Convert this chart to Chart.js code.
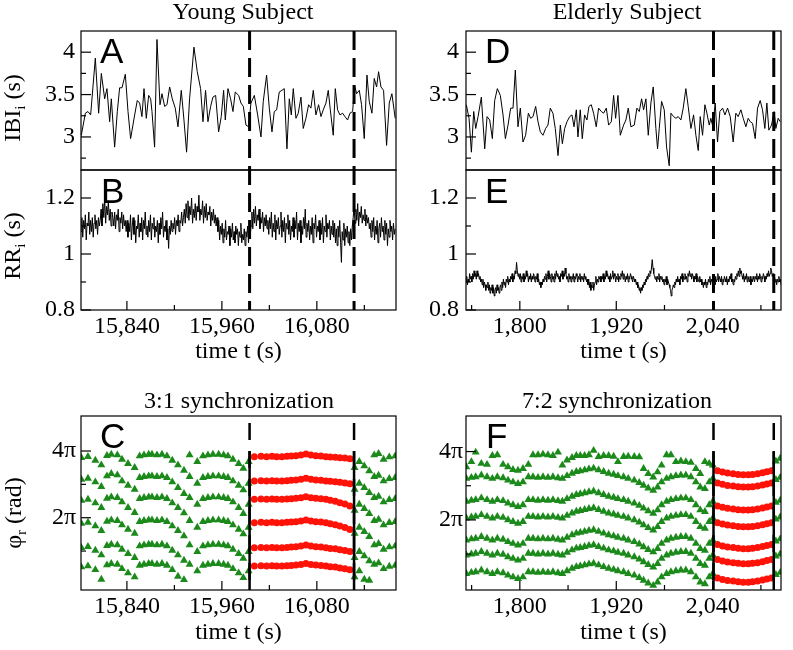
<!DOCTYPE html>
<html><head><meta charset="utf-8">
<script src="https://cdn.jsdelivr.net/npm/chart.js@4.4.1/dist/chart.umd.min.js"></script>
<style>
html,body{margin:0;padding:0;background:#fff;}
#wrap{position:relative;width:793px;height:650px;overflow:hidden;background:#fff;}
canvas{position:absolute;left:0;top:0;}
</style></head><body><div id="wrap"></div>
<script>
// ---------------- DATA ----------------
// Panel A: respiratory intervals, young subject (time s, IBI s)
const ibiTimesYoung = [15782.4,15787.5,15790.8,15794.2,15800.1,15804.3,15807.7,15811.9,15814.8,15818.2,15820.3,15824.5,15827.9,15830.8,15833.8,15838.0,15841.4,15844.7,15849.8,15853.1,15856.1,15859.0,15861.6,15864.5,15867.5,15870.0,15871.7,15875.0,15878.0,15881.8,15884.3,15887.7,15890.6,15894.0,15897.3,15901.1,15904.5,15908.7,15912.1,15915.4,15919.2,15924.7,15928.9,15933.1,15936.1,15939.4,15942.4,15945.8,15948.7,15952.1,15955.9,15959.2,15962.2,15964.3,15967.7,15971.0,15974.0,15976.9,
15981.2,15984.1,15987.1,15990.4,15993.8,15996.7,16001.0,16005.2,16009.4,16012.3,16016.5,16019.9,16023.3,16026.2,16029.2,16032.5,16035.9,16038.8,16042.2,16045.2,16047.7,16050.2,16053.6,16056.5,16059.9,16062.8,16066.2,16069.6,16072.5,16075.5,16078.8,16082.2,16085.2,16088.1,16091.5,16094.4,16097.0,16100.7,16103.3,16106.2,16109.2,16112.5,16115.5,16118.8,16121.8,16125.2,16127.7,16130.2,16133.6,16136.5,16139.9,16143.3,16146.2,16149.6,16152.5,16155.5,16158.0,16161.0,16164.3,16168.1,16171.5,16174.8,16179.0];
const ibiYoung = [3.02,3.28,3.30,3.26,3.93,3.28,3.75,3.45,3.57,3.18,3.45,2.88,3.30,3.58,3.58,3.74,3.30,2.98,3.26,3.43,3.40,3.24,3.57,3.22,3.49,3.45,3.30,2.88,4.15,3.38,3.51,3.36,3.38,3.59,3.45,3.34,3.12,3.55,3.20,2.82,3.45,4.06,3.77,3.57,3.18,3.55,3.18,3.36,3.47,3.49,3.06,3.24,3.55,3.20,3.57,3.45,3.30,3.53,
3.49,3.40,3.36,3.14,3.12,3.40,3.49,3.26,3.00,3.42,3.73,3.34,3.06,3.30,3.32,3.53,3.55,3.57,2.86,3.45,3.26,3.57,3.22,3.28,3.47,3.10,3.22,3.38,3.34,3.55,3.26,3.38,3.24,3.32,3.40,3.55,3.32,3.02,3.57,3.32,3.26,3.28,3.24,3.20,3.28,3.30,3.61,3.51,3.55,3.38,2.98,3.73,3.42,3.28,3.69,3.59,3.77,3.59,3.55,2.90,3.40,3.51,3.22];

// Panel B: heartbeat intervals, young subject (s), first beat time
const rrYoungStart = 15782;
const rrYoung = [1.08,1.13,1.06,1.12,1.09,1.14,1.05,1.11,1.10,1.15,1.07,1.12,1.08,1.13,1.06,1.11,1.14,1.09,1.12,1.07,1.13,1.10,
1.12,1.16,1.10,1.18,1.13,1.20,1.11,1.17,1.14,1.19,1.12,1.16,1.10,1.15,1.13,
1.10,1.15,1.09,1.14,1.12,1.16,1.08,1.13,1.11,1.15,1.09,1.14,1.10,1.12,1.08,
1.12,1.06,1.11,1.08,1.14,1.05,1.10,1.13,1.07,1.12,1.04,1.10,1.09,1.14,1.06,1.11,1.08,1.13,1.05,1.12,1.09,1.15,1.07,1.10,1.06,1.12,1.08,1.14,1.05,1.11,1.09,1.13,1.06,1.10,1.08,1.12,1.04,1.11,1.07,1.13,1.09,1.15,1.06,1.10,1.08,1.12,1.05,1.09,1.02,1.10,1.07,1.12,1.08,1.11,
1.09,1.13,1.07,1.12,1.10,1.14,1.08,1.12,1.11,1.15,1.10,1.13,
1.16,1.11,1.18,1.13,1.19,1.12,1.17,1.14,1.20,1.11,1.16,1.13,1.18,1.12,1.17,1.15,1.21,1.12,1.16,1.14,1.19,1.11,1.17,1.13,1.18,1.12,1.15,1.14,1.17,1.10,1.15,1.12,1.16,1.11,1.14,1.10,1.13,
1.08,1.12,1.05,1.10,1.07,1.11,1.04,1.09,1.06,1.12,1.05,1.08,1.07,1.10,1.03,1.09,1.06,1.11,1.05,1.08,1.04,1.10,1.07,1.09,1.03,1.08,1.06,1.11,1.04,1.07,1.05,1.09,1.03,1.08,1.06,1.10,1.04,1.08,1.06,
1.10,1.15,1.09,1.16,1.11,1.17,1.10,1.14,1.12,1.16,1.09,1.13,1.11,1.15,1.08,1.13,1.10,1.14,1.09,
1.12,1.07,1.13,1.09,1.15,1.06,1.11,1.08,1.14,1.05,1.12,1.09,1.13,1.07,1.10,1.15,1.06,1.12,1.08,1.13,1.04,1.11,1.09,1.14,1.07,1.12,1.05,1.10,1.08,1.13,1.06,1.12,1.09,1.15,1.05,1.11,1.08,1.12,1.04,1.10,1.07,1.13,1.09,1.16,1.06,1.11,1.08,1.12,1.05,1.10,1.07,1.13,1.04,1.11,1.09,1.14,1.06,1.10,1.08,1.12,1.05,1.11,1.07,1.13,1.04,1.10,1.08,1.14,1.06,1.11,1.09,1.12,1.05,1.10,1.07,1.12,
1.06,1.11,1.04,1.09,1.03,1.10,1.06,1.12,1.04,0.97,1.08,1.05,1.11,1.03,1.09,1.06,1.10,1.04,1.08,1.03,1.09,1.05,1.10,
1.13,1.17,1.11,1.16,1.12,1.18,1.10,1.15,1.13,1.17,1.11,1.14,1.12,1.16,1.10,1.14,1.11,1.13,1.09,
1.11,1.06,1.12,1.08,1.13,1.05,1.10,1.07,1.12,1.04,1.09,1.11,1.06,1.13,1.08,1.10,1.05,1.12,1.07,1.11,1.03,1.09,1.06,1.12,1.08,1.10,1.05,1.11,1.07,1.09];

// Panel D: respiratory intervals, elderly subject
const ibiTimesElderly = [1733.4,1736.8,1739.7,1742.6,1745.1,1748.0,1752.1,1756.3,1759.2,1762.5,1765.8,1768.7,1772.0,1775.7,1779.1,1782.0,1785.3,1788.6,1791.5,1794.4,1797.7,1800.6,1803.9,1807.2,1810.6,1813.5,1816.4,1819.7,1822.6,1825.5,1828.8,1832.1,1835.0,1837.9,1841.2,1844.1,1847.5,1850.4,1852.9,1855.8,1858.7,1862.0,1864.9,1867.4,1870.3,1872.3,1875.2,1877.7,1880.6,1883.5,1886.0,1888.9,1891.8,1895.1,1898.0,1901.4,1904.3,1907.6,1910.5,1913.8,1916.7,1919.2,1922.1,1925.0,
1929.1,1932.0,1934.9,1938.2,1942.4,1945.7,1948.6,1951.5,1954.0,1956.9,1959.8,1963.1,1966.0,1969.3,1971.4,1973.5,1976.4,1979.7,1982.6,1985.9,1988.0,1991.3,1994.2,1997.1,2000.4,2003.3,2006.6,2009.5,2012.9,2016.2,2019.1,2022.0,2024.5,2027.4,2030.3,2032.8,2035.7,2037.7,2040.2,2043.1,2046.0,2048.9,2052.3,2055.2,2058.5,2061.8,2065.5,2068.8,2071.7,2075.1,2078.0,2081.3,2084.2,2086.7,2089.6,2092.9,2095.8,2099.1,2102.0,2104.9,2107.4,2109.9,2113.2,2116.5,2118.6,2121.5,2124.0];
const ibiElderly = [3.38,3.22,2.82,3.30,3.10,3.24,3.47,2.86,3.24,3.20,2.98,3.43,3.57,3.49,3.26,2.98,3.14,3.34,3.34,3.79,3.12,3.34,2.94,3.02,3.28,3.22,3.24,3.36,3.18,3.06,3.02,3.10,3.14,3.34,3.28,3.10,2.78,3.14,2.92,3.10,3.18,3.24,3.26,3.12,3.32,3.00,3.32,2.98,3.26,3.20,3.36,3.38,3.28,3.12,3.34,3.30,3.28,3.34,3.14,3.18,3.49,3.22,3.49,3.02,
3.14,3.20,3.34,3.12,3.14,3.34,3.30,3.45,3.32,3.45,3.02,3.40,3.59,3.10,2.86,3.10,3.42,3.32,2.88,2.66,3.28,3.24,3.22,3.24,3.20,3.34,3.57,3.36,3.10,3.26,3.02,2.84,3.24,3.02,3.38,3.28,3.14,3.22,3.12,3.40,2.94,3.30,3.34,3.26,3.34,3.24,2.94,3.28,3.24,3.32,3.22,3.12,3.22,3.18,3.16,2.98,3.34,3.43,3.32,3.10,3.40,3.08,3.14,3.30,3.10,3.22,3.18];

// Panel E: heartbeat intervals, elderly subject
const rrElderlyStart = 1733;
const rrElderly = [0.90,0.92,0.89,0.91,0.90,0.93,0.91,0.92,0.90,0.93,0.91,0.94,0.92,0.93,0.91,0.94,0.92,0.93,0.91,
0.92,0.90,0.91,0.89,0.91,0.88,0.90,0.89,0.87,0.89,0.88,0.90,0.87,0.89,0.86,0.88,0.87,0.89,0.86,0.88,0.85,0.87,0.88,0.86,0.89,0.87,0.88,0.86,
0.88,0.89,0.87,0.90,0.88,0.91,0.89,0.90,0.88,0.91,0.90,0.92,0.89,0.91,0.90,0.92,0.91,0.93,0.90,0.92,0.91,0.94,0.93,
0.97,0.94,0.92,0.93,0.91,0.93,0.90,0.92,0.91,0.93,0.90,0.92,0.91,0.94,0.92,0.93,0.90,0.92,0.91,0.93,0.90,0.92,0.91,0.93,0.92,0.90,0.92,0.91,0.93,0.90,0.91,0.89,0.90,0.88,0.90,0.89,0.91,
0.90,0.92,0.91,0.93,0.90,0.92,0.94,0.91,0.93,0.92,0.90,0.93,0.91,0.92,0.90,0.93,0.91,0.94,0.92,0.93,0.91,0.92,0.90,0.93,0.92,0.94,0.91,0.93,0.92,0.95,0.93,0.91,0.92,0.90,0.93,0.91,0.92,0.90,0.92,0.91,0.93,0.90,0.92,0.91,0.93,0.92,0.90,0.92,0.91,0.93,0.90,0.92,0.91,0.92,0.90,0.93,0.91,0.92,0.90,0.91,
0.89,0.91,0.88,0.90,0.87,0.89,0.88,0.90,0.87,0.89,0.90,0.92,0.89,0.91,0.90,0.92,0.91,0.92,
0.90,0.92,0.91,0.93,0.90,0.92,0.91,0.94,0.92,0.93,0.91,0.92,0.90,0.93,0.91,0.92,0.94,0.91,0.93,0.92,0.90,0.92,0.91,0.93,0.90,0.92,0.91,0.93,0.92,0.94,0.91,0.93,0.92,0.90,0.92,0.91,0.93,0.90,0.92,0.91,0.93,0.92,0.91,0.90,0.92,0.91,
0.90,0.91,0.89,0.90,0.88,0.89,0.87,0.88,0.86,0.88,0.87,0.89,0.88,0.90,0.89,0.91,0.90,0.92,0.91,0.93,0.92,0.94,0.93,0.95,0.98,0.95,0.93,0.92,
0.91,0.92,0.90,0.92,0.91,0.93,0.90,0.92,0.91,0.92,0.90,0.91,0.89,0.91,0.90,0.92,0.89,0.91,0.90,0.89,0.88,0.87,0.85,0.87,0.88,0.89,0.88,0.90,
0.89,0.91,0.90,0.92,0.90,0.91,0.89,0.92,0.91,0.93,0.90,0.92,0.91,0.93,0.91,0.92,0.90,0.93,0.92,0.94,0.92,0.93,0.91,0.93,0.92,0.90,0.92,0.91,0.93,0.90,0.92,0.91,0.90,0.92,0.90,0.91,0.89,
0.90,0.88,0.90,0.89,0.91,0.88,0.90,0.89,0.91,0.90,0.92,0.89,0.91,0.90,0.92,0.90,0.91,0.89,0.92,0.90,0.91,0.93,0.90,0.92,0.91,0.90,0.92,0.89,0.91,0.90,0.92,0.91,0.90,0.92,0.89,0.91,0.90,0.92,0.91,0.93,0.90,0.91,0.89,0.91,0.90,0.92,
0.91,0.93,0.92,0.94,0.92,0.95,0.93,0.94,0.92,0.91,0.93,0.90,0.92,0.91,0.93,0.90,0.92,0.91,0.90,0.92,0.89,0.91,0.90,0.92,0.91,0.90,0.92,0.91,0.93,0.90,0.92,0.91,0.93,0.92,0.90,0.92,0.91,0.93,0.92,0.90,0.92,0.91,0.93,0.92,0.94,0.92,
0.93,0.95,0.94,0.92,0.93,0.91,0.92,0.90,0.91,0.89,0.91,0.90,0.92,0.90,0.91,0.89,0.90,0.91,0.89,0.90];

// Panel C: relative phase (units of pi), one value per pair of breaths, 6 rows (3:1)
const phiC1 = [3.80,3.83,3.72,3.58,3.86,3.90,3.88,3.75,3.62,3.50,3.85,3.88,3.90,3.90,3.88,3.90,3.85,3.72,3.58,3.42,3.88,3.68,3.85,3.88,3.90,3.90,3.88,3.85,3.75,3.62,3.48,3.68,
3.83,3.84,3.83,3.84,3.83,3.83,3.84,3.85,3.86,3.88,3.91,3.88,3.86,3.85,3.83,3.82,3.81,3.80,3.79,3.77,
3.50,3.68,3.55,3.40,3.88,3.92,3.75,3.82,3.85];
const phiC2 = [3.15,3.18,3.07,2.93,3.25,3.32,3.28,3.10,2.97,2.85,3.20,3.23,3.25,3.25,3.23,3.25,3.20,3.07,2.90,2.72,3.23,3.03,3.20,3.23,3.25,3.25,3.23,3.20,3.10,2.97,2.83,3.03,
3.10,3.11,3.10,3.11,3.10,3.10,3.11,3.12,3.13,3.15,3.18,3.15,3.13,3.12,3.10,3.09,3.08,3.06,3.04,3.02,
2.85,3.03,2.90,2.75,3.23,3.27,3.10,3.17,3.20];
const phiC3 = [2.52,2.55,2.44,2.30,2.58,2.62,2.60,2.47,2.30,2.15,2.57,2.60,2.62,2.62,2.60,2.62,2.57,2.44,2.30,2.14,2.60,2.40,2.57,2.60,2.62,2.62,2.60,2.57,2.47,2.30,2.12,2.40,
2.55,2.56,2.55,2.56,2.55,2.55,2.56,2.57,2.58,2.60,2.63,2.60,2.58,2.57,2.55,2.52,2.49,2.45,2.41,2.35,
2.22,2.40,2.27,2.12,2.60,2.64,2.47,2.54,2.57];
const phiC4 = [1.83,1.86,1.75,1.61,1.89,1.93,1.91,1.78,1.65,1.53,1.88,1.91,1.93,1.93,1.91,1.93,1.88,1.75,1.61,1.45,1.91,1.71,1.88,1.91,1.93,1.93,1.91,1.88,1.78,1.65,1.51,1.71,
1.85,1.86,1.85,1.86,1.85,1.85,1.86,1.87,1.88,1.90,1.93,1.90,1.88,1.87,1.85,1.82,1.79,1.75,1.71,1.65,
1.53,1.71,1.58,1.43,1.91,1.95,1.78,1.85,1.88];
const phiC5 = [1.10,1.13,1.02,0.88,1.16,1.20,1.18,1.05,0.92,0.80,1.15,1.18,1.20,1.20,1.18,1.20,1.15,1.02,0.88,0.72,1.18,0.98,1.15,1.18,1.20,1.20,1.18,1.15,1.05,0.92,0.78,0.98,
1.10,1.11,1.10,1.11,1.10,1.10,1.11,1.12,1.13,1.15,1.18,1.15,1.13,1.12,1.10,1.08,1.07,1.04,1.02,0.99,
0.80,0.98,0.85,0.70,1.18,1.22,1.05,1.12,1.15];
const phiC6 = [0.52,0.55,0.44,0.15,0.58,0.62,0.60,0.47,0.34,0.22,0.57,0.60,0.62,0.62,0.60,0.62,0.57,0.44,0.24,0.14,0.60,0.40,0.57,0.60,0.62,0.62,0.60,0.57,0.47,0.34,0.20,0.40,
0.55,0.56,0.55,0.56,0.55,0.55,0.56,0.57,0.58,0.60,0.63,0.60,0.58,0.57,0.55,0.53,0.52,0.49,0.47,0.44,
0.22,0.40,0.15,0.12,0.60,0.64,0.47,0.54,0.57];

// Panel F: relative phase (units of pi), 7 rows (7:2)
const phiF1 = [3.55,3.70,3.98,3.65,3.62,3.88,3.90,3.62,3.55,3.47,3.45,3.50,3.62,3.90,3.90,3.92,3.90,3.88,3.98,3.60,3.75,3.82,3.88,3.88,3.88,3.90,4.03,3.85,3.88,3.88,3.86,3.70,3.85,3.86,3.85,3.84,3.50,3.35,3.25,3.40,3.60,3.90,3.90,3.70,3.72,3.70,3.68,3.50,3.35,3.70,3.65,3.60,3.44,3.40,3.37,3.35,3.33,3.32,3.32,3.33,3.35,3.38,3.41,3.44,3.72,3.80];
const phiF2 = [3.21,3.24,3.26,3.31,3.26,3.21,3.26,3.23,3.16,3.11,3.06,3.11,3.26,3.26,3.24,3.26,3.24,3.26,3.23,3.21,3.29,3.36,3.41,3.43,3.46,3.49,3.51,3.46,3.41,3.36,3.33,3.29,3.26,3.21,3.16,3.09,3.01,2.93,2.86,2.96,3.11,3.21,3.26,3.29,3.31,3.31,3.26,3.11,2.96,2.91,3.11,3.21,3.08,3.04,3.01,2.99,2.97,2.96,2.96,2.97,2.99,3.02,3.05,3.08,3.18,3.24];
const phiF3 = [2.54,2.57,2.59,2.64,2.59,2.54,2.59,2.56,2.49,2.44,2.39,2.44,2.59,2.59,2.57,2.59,2.57,2.59,2.56,2.54,2.62,2.69,2.74,2.76,2.79,2.82,2.84,2.79,2.74,2.69,2.66,2.62,2.59,2.54,2.49,2.42,2.34,2.26,2.19,2.29,2.44,2.54,2.59,2.62,2.64,2.64,2.59,2.44,2.29,2.24,2.44,2.54,2.41,2.37,2.34,2.32,2.30,2.29,2.29,2.30,2.32,2.35,2.38,2.41,2.51,2.57];
const phiF4 = [2.05,2.08,2.10,2.15,2.10,2.05,2.10,2.07,2.00,1.95,1.90,1.95,2.10,2.10,2.08,2.10,2.08,2.10,2.07,2.05,2.13,2.20,2.25,2.27,2.30,2.33,2.35,2.30,2.25,2.20,2.17,2.13,2.10,2.05,2.00,1.93,1.85,1.77,1.70,1.80,1.95,2.05,2.10,2.13,2.15,2.15,2.10,1.95,1.80,1.75,1.95,2.05,1.92,1.88,1.85,1.83,1.81,1.80,1.80,1.81,1.83,1.86,1.89,1.92,2.02,2.08];
const phiF5 = [1.41,1.44,1.46,1.51,1.46,1.41,1.46,1.43,1.36,1.31,1.26,1.31,1.46,1.46,1.44,1.46,1.44,1.46,1.43,1.41,1.49,1.56,1.61,1.63,1.66,1.69,1.71,1.66,1.61,1.56,1.53,1.49,1.46,1.41,1.36,1.29,1.21,1.13,1.06,1.16,1.31,1.41,1.46,1.49,1.51,1.51,1.46,1.31,1.16,1.11,1.31,1.41,1.28,1.24,1.21,1.19,1.17,1.16,1.16,1.17,1.19,1.22,1.25,1.28,1.38,1.44];
const phiF6 = [0.97,1.00,1.02,1.07,1.02,0.97,1.02,0.99,0.92,0.87,0.82,0.87,1.02,1.02,1.00,1.02,1.00,1.02,0.99,0.97,1.05,1.12,1.17,1.19,1.22,1.25,1.27,1.22,1.17,1.12,1.09,1.05,1.02,0.97,0.92,0.85,0.77,0.69,0.62,0.72,0.87,0.97,1.02,1.05,1.07,1.07,1.02,0.87,0.72,0.67,0.87,0.97,0.84,0.80,0.77,0.75,0.73,0.72,0.72,0.73,0.75,0.78,0.81,0.84,0.94,1.00];
const phiF7 = [0.43,0.46,0.48,0.53,0.48,0.43,0.48,0.45,0.38,0.33,0.28,0.33,0.48,0.48,0.46,0.48,0.46,0.48,0.45,0.43,0.51,0.58,0.63,0.65,0.68,0.71,0.73,0.68,0.63,0.58,0.55,0.51,0.48,0.43,0.38,0.31,0.23,0.15,0.08,0.18,0.33,0.43,0.48,0.51,0.53,0.53,0.48,0.33,0.18,0.13,0.33,0.43,0.30,0.26,0.23,0.21,0.19,0.18,0.18,0.19,0.21,0.24,0.27,0.30,0.40,0.46];

// synchronization windows (s)
const syncYoung = [15995, 16127];
const syncElderly = [2041, 2116];

// tick values
const xMajorYoung = [15840, 15960, 16080];
const xMinorYoung = [15900, 16020, 16140];
const xMajorElderly = [1800, 1920, 2040];
const xMinorElderly = [1740, 1860, 1980, 2100];
const yMajorIBI = [3, 3.5, 4];
const yMinorIBI = [2.75, 3.25, 3.75];
const yMajorRR = [0.8, 1, 1.2];
const yMinorRR = [0.9, 1.1];
const yMajorPhi = [2, 4];   // multiples of pi
const yMinorPhi = [1, 3];

// ---------------- DRAWING ----------------
const PI = Math.PI;
const SERIF = "'Liberation Serif','Times New Roman',serif";
const SANS = "'Liberation Sans',Arial,sans-serif";
const FS = 24;

const framePlugin = {
  id: 'frame',
  afterDatasetsDraw(chart, args, o) {
    const ctx = chart.ctx, a = chart.chartArea, xs = chart.scales.x, ys = chart.scales.y;
    ctx.save();
    ctx.strokeStyle = '#000'; ctx.fillStyle = '#000';
    ctx.save();
    ctx.beginPath(); ctx.rect(a.left, a.top, a.right - a.left, a.bottom - a.top); ctx.clip();
    (o.sync || []).forEach(t => {
      const px = xs.getPixelForValue(t);
      ctx.lineWidth = o.dashWidth;
      ctx.setLineDash(o.dash);
      ctx.lineDashOffset = a.top - o.dashOrigin;
      ctx.beginPath(); ctx.moveTo(px, a.top); ctx.lineTo(px, a.bottom); ctx.stroke();
      if (o.solidFrom !== undefined) {
        ctx.setLineDash([]);
        const py = ys.getPixelForValue(o.solidFrom);
        ctx.beginPath(); ctx.moveTo(px, py); ctx.lineTo(px, a.bottom); ctx.stroke();
      }
    });
    ctx.restore();
    ctx.setLineDash([]);
    ctx.lineWidth = 1.2;
    const seg = (x1, y1, x2, y2) => { ctx.beginPath(); ctx.moveTo(x1, y1); ctx.lineTo(x2, y2); ctx.stroke(); };
    (o.xMajor || []).forEach(v => { const p = xs.getPixelForValue(v); seg(p, a.bottom, p, a.bottom - 9); });
    (o.xMinor || []).forEach(v => { const p = xs.getPixelForValue(v); seg(p, a.bottom, p, a.bottom - 5); });
    (o.yMajor || []).forEach(v => { const p = ys.getPixelForValue(v); seg(a.left, p, a.left + 10, p); });
    (o.yMinor || []).forEach(v => { const p = ys.getPixelForValue(v); seg(a.left, p, a.left + 5, p); });
    ctx.strokeRect(a.left, a.top, a.right - a.left, a.bottom - a.top);
    ctx.font = '35px ' + SANS;
    ctx.textAlign = 'left'; ctx.textBaseline = 'alphabetic';
    ctx.fillText(o.letter, o.lx, o.ly);
    if (o.title) {
      ctx.font = FS + 'px ' + SERIF; ctx.textAlign = 'center';
      ctx.fillText(o.title, o.tx, o.ty);
    }
    if (o.ytitle) {
      const parts = o.ytitle.parts;
      let w = 0;
      parts.forEach(p => { ctx.font = p[1] + 'px ' + SERIF; w += ctx.measureText(p[0]).width; });
      ctx.save();
      ctx.translate(o.ytitle.x, o.ytitle.cy);
      ctx.rotate(-PI / 2);
      ctx.textAlign = 'left';
      let cur = -w / 2;
      parts.forEach(p => { ctx.font = p[1] + 'px ' + SERIF; ctx.fillText(p[0], cur, p[2]); cur += ctx.measureText(p[0]).width; });
      ctx.restore();
    }
    ctx.restore();
  }
};

function cumulativeTimes(start, intervals) {
  const t = []; let s = start;
  intervals.forEach(v => { t.push(s); s += v; });
  return t;
}
function linePoints(times, vals) { return vals.map((v, i) => ({x: times[i], y: v})); }
function phaseSets(rows, times, win) {
  const green = [], red = [];
  rows.forEach(r => r.forEach((v, k) => {
    if (times[k] === undefined) return;
    const p = {x: times[k], y: v * PI};
    (times[k] > win[0] && times[k] < win[1] ? red : green).push(p);
  }));
  return [
    {data: green, pointStyle: 'triangle', pointRadius: 4.6, backgroundColor: '#1b8a1b', borderWidth: 0, pointBorderWidth: 0, clip: 0},
    {data: red, pointStyle: 'circle', pointRadius: 3.5, backgroundColor: '#ff1208', borderWidth: 0, pointBorderWidth: 0, clip: 0}
  ];
}

function panel(p) {
  const c = document.createElement('canvas');
  c.width = 793; c.height = 650;
  document.getElementById('wrap').appendChild(c);
  const tickFont = {family: SERIF, size: FS};
  return new Chart(c, {
    type: 'scatter',
    data: {datasets: p.datasets},
    options: {
      responsive: false, animation: false, devicePixelRatio: 1, events: [],
      layout: {padding: {left: p.padLeft, top: p.top, right: 793 - p.right, bottom: p.padBottom}},
      plugins: {legend: {display: false}, tooltip: {enabled: false}, frame: p.frame},
      scales: {
        x: {
          type: 'linear', min: p.xmin, max: p.xmax, display: p.showX,
          afterFit: s => { s.height = p.xHeight; },
          afterBuildTicks: s => { s.ticks = p.xTicks.map(v => ({value: v})); },
          grid: {display: false, drawTicks: false}, border: {display: false},
          ticks: {font: tickFont, color: '#000', padding: 2, maxRotation: 0, autoSkip: false},
          title: {display: true, text: 'time t (s)', font: tickFont, color: '#000', padding: {top: 0, bottom: 0}}
        },
        y: {
          type: 'linear', min: p.ymin, max: p.ymax,
          afterFit: s => { s.width = p.yWidth; },
          afterBuildTicks: s => { s.ticks = p.yTicks.map(v => ({value: v})); },
          grid: {display: false, drawTicks: false}, border: {display: false},
          ticks: {font: tickFont, color: '#000', padding: p.yPad, autoSkip: false, callback: p.yLabel}
        }
      }
    },
    plugins: [framePlugin]
  });
}

const lineStyle = {showLine: true, borderColor: '#000', borderWidth: 1, pointRadius: 0, tension: 0, clip: 0};
const rrYoungTimes = cumulativeTimes(rrYoungStart, rrYoung);
const rrElderlyTimes = cumulativeTimes(rrElderlyStart, rrElderly);
const phaseTimesYoung = ibiTimesYoung.filter((t, i) => i % 2 === 0);
const phaseTimesElderly = ibiTimesElderly.filter((t, i) => i % 2 === 0);
const numLabel = v => String(v);
const piLabel = v => Math.round(v / PI) + 'π';
const dashTop = {dash: [19, 8], dashWidth: 3, dashOrigin: 31};
const dashLow = {dash: [17, 11], dashWidth: 2.5, dashOrigin: 423, solidFrom: 4 * PI};

// A
panel({datasets: [Object.assign({data: linePoints(ibiTimesYoung, ibiYoung)}, lineStyle)],
  padLeft: 0, yWidth: 81, right: 396, top: 31, padBottom: 480, showX: false, xHeight: 0,
  xmin: 15782, xmax: 16180, xTicks: xMajorYoung, ymin: 2.61, ymax: 4.25, yTicks: yMajorIBI, yPad: 6, yLabel: numLabel,
  frame: Object.assign({sync: syncYoung, yMajor: yMajorIBI, yMinor: yMinorIBI, letter: 'A', lx: 100, ly: 63,
    title: 'Young Subject', tx: 243, ty: 19,
    ytitle: {x: 20, cy: 108, parts: [['IBI', FS, 0], ['i', 15, 5], [' (s)', FS, 0]]}}, dashTop)});
// B
panel({datasets: [Object.assign({data: linePoints(rrYoungTimes, rrYoung)}, lineStyle)],
  padLeft: 0, yWidth: 81, right: 396, top: 170, padBottom: 284, showX: true, xHeight: 56,
  xmin: 15782, xmax: 16180, xTicks: xMajorYoung, ymin: 0.8, ymax: 1.3, yTicks: yMajorRR, yPad: 6, yLabel: numLabel,
  frame: Object.assign({sync: syncYoung, xMajor: xMajorYoung, xMinor: xMinorYoung, yMajor: yMajorRR, yMinor: yMinorRR, letter: 'B', lx: 101, ly: 203,
    ytitle: {x: 20, cy: 246, parts: [['RR', FS, 0], ['i', 15, 5], [' (s)', FS, 0]]}}, dashTop)});
// C
panel({datasets: phaseSets([phiC1, phiC2, phiC3, phiC4, phiC5, phiC6], phaseTimesYoung, syncYoung),
  padLeft: 0, yWidth: 81, right: 396, top: 416, padBottom: 3, showX: true, xHeight: 57,
  xmin: 15782, xmax: 16180, xTicks: xMajorYoung, ymin: -0.168 * PI, ymax: 5.05 * PI, yTicks: yMajorPhi.map(v => v * PI), yPad: 5, yLabel: piLabel,
  frame: Object.assign({sync: syncYoung, xMajor: xMajorYoung, xMinor: xMinorYoung, yMajor: yMajorPhi.map(v => v * PI), yMinor: yMinorPhi.map(v => v * PI), letter: 'C', lx: 100, ly: 448,
    title: '3:1 synchronization', tx: 239, ty: 408,
    ytitle: {x: 21, cy: 513, parts: [['φ', FS, 0], ['r', 15, 5], [' (rad)', FS, 0]]}}, dashLow)});
// D
panel({datasets: [Object.assign({data: linePoints(ibiTimesElderly, ibiElderly)}, lineStyle)],
  padLeft: 400, yWidth: 66, right: 781, top: 31, padBottom: 480, showX: false, xHeight: 0,
  xmin: 1733, xmax: 2125, xTicks: xMajorElderly, ymin: 2.61, ymax: 4.25, yTicks: yMajorIBI, yPad: 7, yLabel: numLabel,
  frame: Object.assign({sync: syncElderly, yMajor: yMajorIBI, yMinor: yMinorIBI, letter: 'D', lx: 485, ly: 63,
    title: 'Elderly Subject', tx: 627, ty: 19}, dashTop)});
// E
panel({datasets: [Object.assign({data: linePoints(rrElderlyTimes, rrElderly)}, lineStyle)],
  padLeft: 400, yWidth: 66, right: 781, top: 170, padBottom: 284, showX: true, xHeight: 56,
  xmin: 1733, xmax: 2125, xTicks: xMajorElderly, ymin: 0.8, ymax: 1.3, yTicks: yMajorRR, yPad: 7, yLabel: numLabel,
  frame: Object.assign({sync: syncElderly, xMajor: xMajorElderly, xMinor: xMinorElderly, yMajor: yMajorRR, yMinor: yMinorRR, letter: 'E', lx: 485, ly: 203}, dashTop)});
// F
panel({datasets: phaseSets([phiF1, phiF2, phiF3, phiF4, phiF5, phiF6, phiF7], phaseTimesElderly, syncElderly),
  padLeft: 400, yWidth: 66, right: 781, top: 416, padBottom: 3, showX: true, xHeight: 57,
  xmin: 1733, xmax: 2125, xTicks: xMajorElderly, ymin: -0.05 * PI, ymax: 5.04 * PI, yTicks: yMajorPhi.map(v => v * PI), yPad: 3, yLabel: piLabel,
  frame: Object.assign({sync: syncElderly, xMajor: xMajorElderly, xMinor: xMinorElderly, yMajor: yMajorPhi.map(v => v * PI), yMinor: yMinorPhi.map(v => v * PI), letter: 'F', lx: 486, ly: 448,
    title: '7:2 synchronization', tx: 617, ty: 408}, dashLow)});
</script></body></html>
